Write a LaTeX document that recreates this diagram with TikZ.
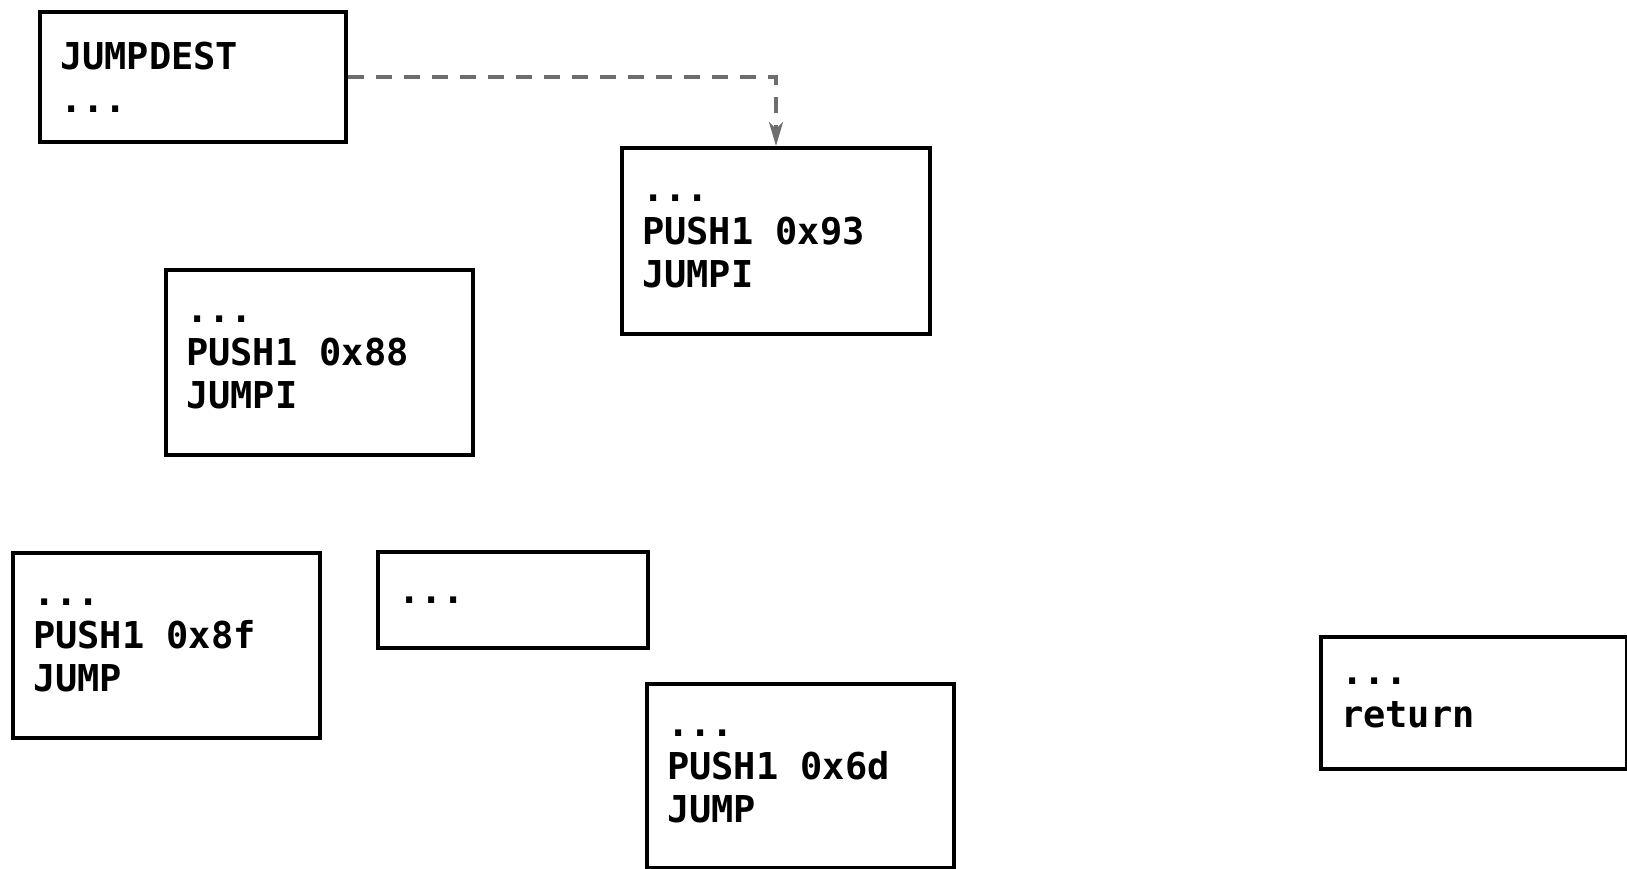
\documentclass[tikz,border=0pt]{standalone}
\usepackage{fontspec}
\setmonofont{DejaVu Sans Mono}
\usetikzlibrary{arrows.meta}
\definecolor{conngray}{HTML}{6E6E6E}
\newcommand\msp{\hspace*{0.602em}}
\begin{document}
\begin{tikzpicture}[x=1pt,y=-1pt,
  blk/.style={draw=black, line width=4pt, anchor=north west, inner xsep=20pt, inner ysep=0pt,
    align=left, font=\ttfamily\bfseries\fontsize{37}{43}\selectfont},
  conn/.style={draw=conngray, line width=4pt, dash pattern=on 16pt off 12pt,
    -{Stealth[length=24pt,width=14pt,inset=7pt]}}
]
\useasboundingbox (0,0) rectangle (1627,869);
\node[blk, minimum width=306pt, minimum height=130pt, text width=266pt] (jd) at (38,10) {JUMPDEST\\...};
\node[blk, minimum width=308pt, minimum height=186pt, text width=268pt] (b93) at (620,146) {...\\PUSH1\msp0x93\\JUMPI};
\node[blk, minimum width=307pt, minimum height=185pt, text width=267pt] (b88) at (164,268) {...\\PUSH1\msp0x88\\JUMPI};
\node[blk, minimum width=307pt, minimum height=185pt, text width=267pt] (b8f) at (11,551) {...\\PUSH1\msp0x8f\\JUMP};
\node[blk, minimum width=270pt, minimum height=96pt, text width=230pt] (bdots) at (376,550) {...};
\node[blk, minimum width=307pt, minimum height=184pt, text width=267pt] (b6d) at (645,682) {...\\PUSH1\msp0x6d\\JUMP};
\node[blk, minimum width=306pt, minimum height=132pt, text width=266pt] (bret) at (1319,635) {...\\return};
\draw[conn] (jd.east) -| (b93.north);
\end{tikzpicture}
\end{document}
